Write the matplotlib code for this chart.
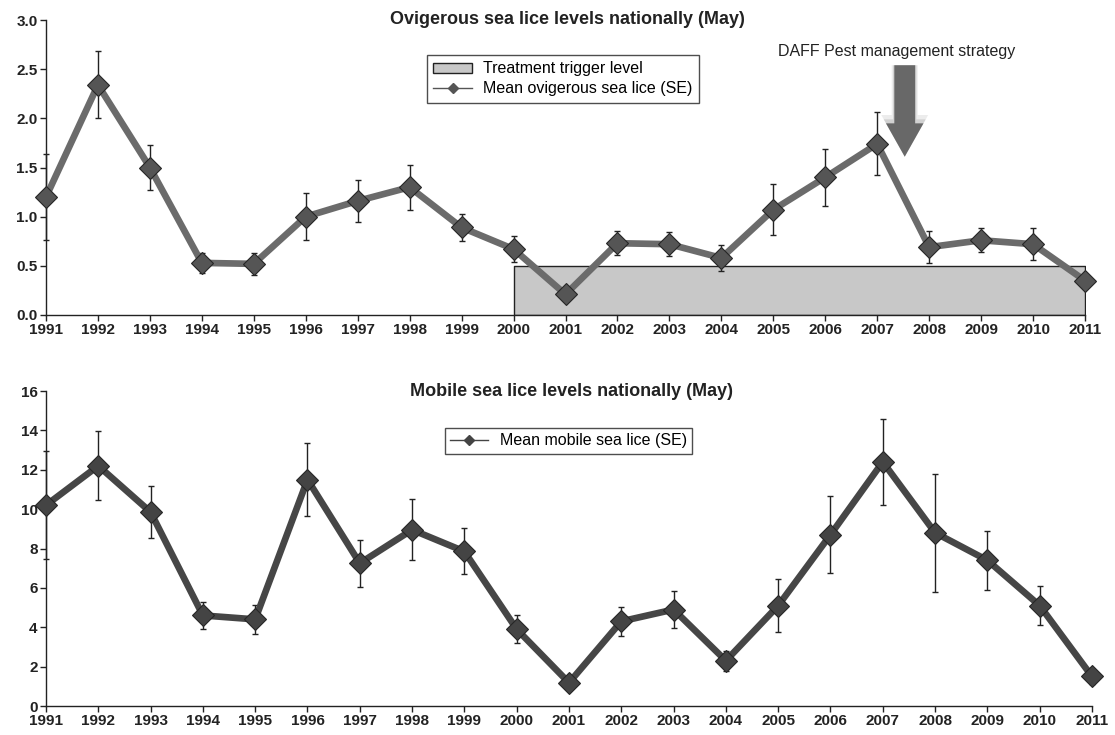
import matplotlib
matplotlib.use("Agg")
import matplotlib.pyplot as plt
from matplotlib.patches import FancyArrowPatch, Patch
from matplotlib.lines import Line2D

plt.rcParams["font.family"] = ["Liberation Sans", "DejaVu Sans"]

years = list(range(1991, 2012))

# ovigerous sea lice (May), mean and SE
ovig_mean = [1.20, 2.34, 1.50, 0.53, 0.52, 1.00, 1.16, 1.30, 0.89, 0.67, 0.21,
             0.73, 0.72, 0.58, 1.07, 1.40, 1.74, 0.69, 0.76, 0.72, 0.35]
ovig_se = [0.44, 0.34, 0.23, 0.10, 0.11, 0.24, 0.21, 0.23, 0.14, 0.13, 0.02,
           0.12, 0.12, 0.13, 0.26, 0.29, 0.32, 0.16, 0.12, 0.16, 0.06]

# mobile sea lice (May), mean and SE
mob_mean = [10.2, 12.2, 9.85, 4.6, 4.4, 11.5, 7.25, 8.95, 7.85, 3.9, 1.18,
            4.3, 4.9, 2.3, 5.1, 8.7, 12.4, 8.8, 7.4, 5.1, 1.5]
mob_se = [2.75, 1.75, 1.3, 0.68, 0.72, 1.85, 1.2, 1.55, 1.17, 0.72, 0.1,
          0.75, 0.93, 0.5, 1.35, 1.95, 2.2, 3.0, 1.5, 0.97, 0.38]

trigger_years = [2000, 2011]
trigger_level = 0.5

arrow_x = 2007.53
arrow_top = 2.54
arrow_bottom = 1.61

W, H = 1115, 735
fig = plt.figure(figsize=(W / 100, H / 100), dpi=100)
ax1 = fig.add_axes([46 / W, 1 - 315 / H, 1039 / W, 295 / H])
ax2 = fig.add_axes([46 / W, 1 - 706 / H, 1046 / W, 315 / H])


def style_axes(ax, ymax, yticks, fmt):
    ax.set_xlim(1991, 2011)
    ax.set_ylim(0, ymax)
    for s in ["top", "right"]:
        ax.spines[s].set_visible(False)
    for s in ["left", "bottom"]:
        ax.spines[s].set_linewidth(1.0)
        ax.spines[s].set_color("#222222")
    ax.set_xticks(years)
    ax.set_xticklabels([str(y) for y in years])
    ax.set_yticks(yticks)
    ax.set_yticklabels([fmt.format(v) for v in yticks])
    ax.tick_params(axis="both", direction="out", length=4, width=1,
                   labelsize=11, colors="#222222", pad=2)
    for lab in ax.get_xticklabels() + ax.get_yticklabels():
        lab.set_fontweight("bold")


def draw_series(ax, mean, se, line_color, face_color):
    ax.errorbar(years, mean, yerr=se, fmt="none", ecolor="#222222",
                elinewidth=1.0, capsize=2.5, capthick=1.0, zorder=2,
                clip_on=False)
    ax.plot(years, mean, color=line_color, linewidth=4.8, zorder=3,
            clip_on=False, solid_joinstyle="miter")
    ax.plot(years, mean, linestyle="none", marker="D", markersize=11.5,
            markerfacecolor=face_color, markeredgecolor="#262626",
            markeredgewidth=0.8, zorder=4, clip_on=False)


# top chart
style_axes(ax1, 3.0, [0.0, 0.5, 1.0, 1.5, 2.0, 2.5, 3.0], "{:.1f}")
ax1.fill_between(trigger_years, 0, trigger_level, facecolor="#c8c8c8",
                 edgecolor="#222222", linewidth=1.0, zorder=1)
draw_series(ax1, ovig_mean, ovig_se, "#6b6b6b", "#555555")
ax1.text(2001.04, 3.0, "Ovigerous sea lice levels nationally (May)",
         ha="center", va="center", fontsize=13, fontweight="bold",
         color="#222222")
ax1.text(2007.38, 2.675, "DAFF Pest management strategy", ha="center",
         va="center", fontsize=11.5, color="#222222")

# soft blurred arrow: a few translucent halos under the solid arrow
for grow, alpha in [(1.25, 0.12), (1.12, 0.2), (1.0, 1.0)]:
    arr = FancyArrowPatch((arrow_x, arrow_top), (arrow_x, arrow_bottom),
                          arrowstyle="simple,head_length=1.2,head_width=1.35,tail_width=0.75",
                          mutation_scale=20 * grow, color="#686868", alpha=alpha,
                          linewidth=0, zorder=5, shrinkA=0, shrinkB=0)
    ax1.add_patch(arr)

h1 = [Patch(facecolor="#c8c8c8", edgecolor="#222222", linewidth=1.0),
      Line2D([], [], color="#555555", linewidth=1.0, marker="D",
             markersize=5, markerfacecolor="#555555")]
leg1 = ax1.legend(h1, ["Treatment trigger level", "Mean ovigerous sea lice (SE)"],
                  loc="upper left", bbox_to_anchor=(0.3667, 0.881),
                  fontsize=11.5, frameon=True, fancybox=False, handlelength=2.4,
                  handleheight=0.6, borderpad=0.4, labelspacing=0.3,
                  handletextpad=0.7, borderaxespad=0)
leg1.get_frame().set_edgecolor("#222222")
leg1.get_frame().set_linewidth(1.0)

# bottom chart
style_axes(ax2, 16, [0, 2, 4, 6, 8, 10, 12, 14, 16], "{:d}")
draw_series(ax2, mob_mean, mob_se, "#464646", "#444444")
ax2.text(2001.04, 16.0, "Mobile sea lice levels nationally (May)",
         ha="center", va="center", fontsize=13, fontweight="bold",
         color="#222222")

h2 = [Line2D([], [], color="#444444", linewidth=1.0, marker="D",
             markersize=5, markerfacecolor="#444444")]
leg2 = ax2.legend(h2, ["Mean mobile sea lice (SE)"], loc="upper left",
                  bbox_to_anchor=(0.381, 0.883), fontsize=11.5,
                  frameon=True, fancybox=False, handlelength=2.4,
                  borderpad=0.35, handletextpad=0.7, borderaxespad=0)
leg2.get_frame().set_edgecolor("#222222")
leg2.get_frame().set_linewidth(1.0)

fig.savefig("out.png", dpi=100)
